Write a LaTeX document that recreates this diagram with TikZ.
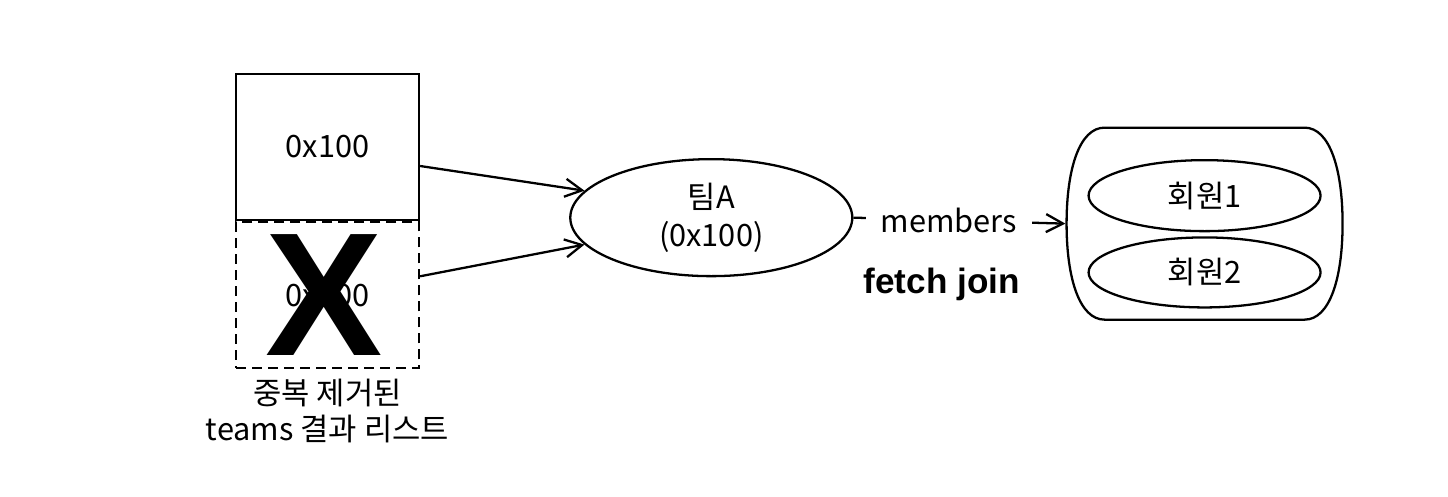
\documentclass[tikz,border=0pt]{standalone}
\usepackage{fontspec}
\setmainfont{Noto Sans CJK KR}
\newfontfamily\heavyfont{Liberation Sans}
\usetikzlibrary{positioning}
\usetikzlibrary{arrows.meta}
\usetikzlibrary{shapes.geometric}

\begin{document}
\begin{tikzpicture}
	[line width=1.3pt, font=\fontsize{17.5}{20.5}\selectfont,
	>={Straight Barb[length=0.34cm,width=0.36cm,line width=1.3pt]},
	cell/.style={rectangle,draw,minimum width=3.66cm,minimum height=2.92cm,inner sep=0pt},
	gone/.style={dash pattern=on 0.2cm off 0.12cm},
	obj/.style={ellipse,draw,inner sep=0pt},
	group/.style={rectangle,minimum width=5.52cm,minimum height=3.84cm}]
	\useasboundingbox (0,0) rectangle (28.96,9.92);
	\node[cell]      (ref1) at (6.55,6.98) {0x100};
	\node[cell,gone] (ref2) [below=0pt of ref1] {0x100};
	\node[inner sep=0pt] (cross) at ([xshift=-0.06cm]ref2.center) {\heavyfont\fontsize{100}{100}\selectfont\bfseries X};
	\node[align=center] (caption) [below=0.06cm of ref2] {중복 제거된\\teams 결과 리스트};
	\node[obj,minimum width=5.64cm,minimum height=2.34cm,align=center,font=\fontsize{17.5}{22}\selectfont]
		(team) [right=2.98cm of ref1.south east, yshift=0.07cm] {팀A\\(0x100)};
	\node[group] (box) [right=4.24cm of team, yshift=-0.12cm] {};
	\node[obj,minimum width=4.64cm,minimum height=1.42cm] (m1) at ([yshift=0.56cm]box.center) {회원1};
	\node[obj,minimum width=4.64cm,minimum height=1.40cm] (m2) [below=0.08cm of m1] {회원2};
	\begin{scope}[shift={(box.center)}]
		\draw (-2,1.92) -- (2,1.92) .. controls (2.5,1.92) and (2.76,1.1) .. (2.76,0)
			.. controls (2.76,-1.1) and (2.5,-1.92) .. (2,-1.92) -- (-2,-1.92)
			.. controls (-2.5,-1.92) and (-2.76,-1.1) .. (-2.76,0)
			.. controls (-2.76,1.1) and (-2.5,1.92) .. cycle;
	\end{scope}
	\draw [->] ([yshift=-0.38cm]ref1.east) -- (team.168);
	\draw [->] ([yshift=0.38cm]ref2.east) -- (team.192);
	\draw [->] (team.east) -- node[pos=0.45,fill=white,inner xsep=0.3cm] (lbl) {members} (box.west);
	\node (fetch) at ([xshift=-0.14cm,yshift=-1.28cm]lbl.center) {\heavyfont\fontsize{20}{22}\selectfont\bfseries fetch join};
\end{tikzpicture}
\end{document}
